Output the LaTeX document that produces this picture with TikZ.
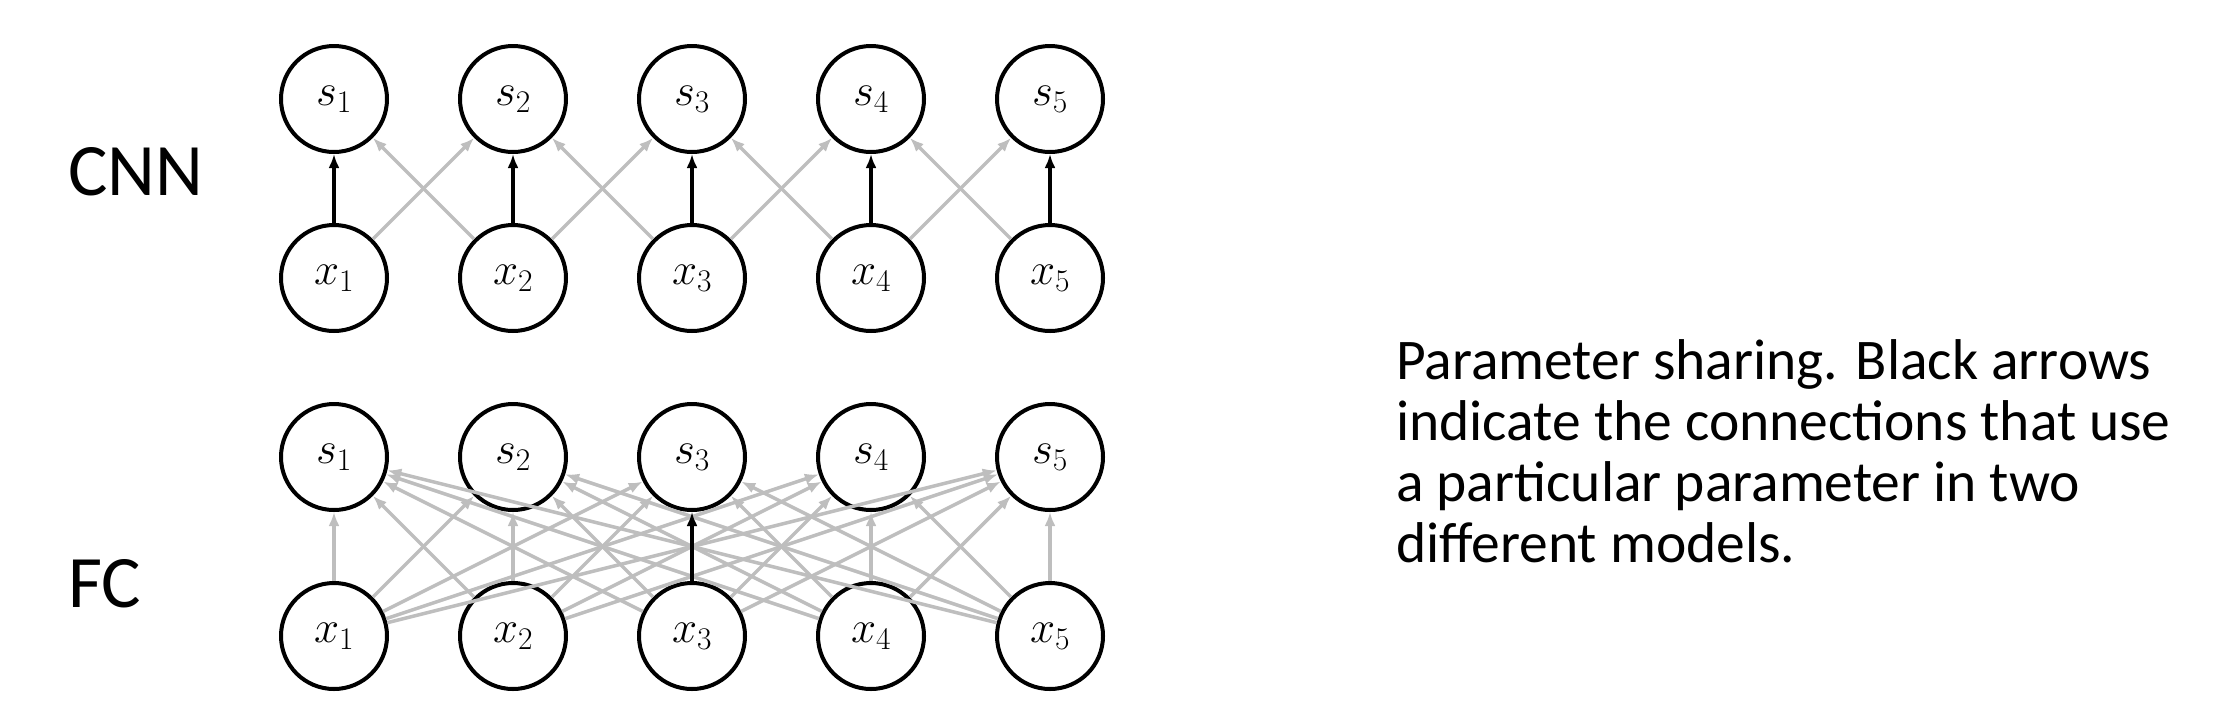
\RequirePackage{fix-cm}
\documentclass[tikz,border=0pt]{standalone}
\usepackage{fontspec}
\setmainfont{Carlito}
\usetikzlibrary{arrows.meta}
\definecolor{arrowgray}{RGB}{190,190,190}
\begin{document}
\begin{tikzpicture}[x=1pt,y=-1pt,
  unit/.style={circle,draw=black,line width=4pt,minimum size=106pt,inner sep=0pt,font=\fontsize{45}{45}\selectfont},
  conn/.style={line width=3.5pt,-{Latex[length=14pt,width=11pt]}},
  strong/.style={conn,draw=black},
  weak/.style={conn,draw=arrowgray},
  rowlabel/.style={anchor=base west,inner sep=0pt,font=\fontsize{74}{74}\selectfont},
  caption/.style={anchor=north west,align=left,inner sep=0pt,font=\fontsize{57.5}{61}\selectfont}
]
\useasboundingbox (0,0) rectangle (2216,724);
\foreach \i/\x in {1/334,2/513,3/692,4/871,5/1050} {
  \node[unit] (cs\i) at (\x,99) {$s_{\i}$};
  \node[unit] (cx\i) at (\x,278) {$x_{\i}$};
  \node[unit] (fs\i) at (\x,457) {$s_{\i}$};
  \node[unit] (fx\i) at (\x,636) {$x_{\i}$};
}
% CNN connections
\foreach \i in {1,...,4} {
  \pgfmathtruncatemacro\j{\i+1}
  \draw[weak] (cx\i) -- (cs\j);
  \draw[weak] (cx\j) -- (cs\i);
}
\foreach \i in {1,...,5} {
  \draw[strong] (cx\i) -- (cs\i);
}
% FC connections
\foreach \i in {1,...,5} {
  \foreach \j in {1,...,5} {
    \draw[weak] (fx\i) -- (fs\j);
  }
}
\draw[strong] (fx3) -- (fs3);
% labels
\node[rowlabel] (cnn) at (68,195) {CNN};
\node[rowlabel] (fc) at (68,607) {FC};
\node[caption] (cap) at (1396,339) {Parameter sharing. Black arrows\\indicate the connections that use\\a particular parameter in two\\different models.};
\end{tikzpicture}
\end{document}
